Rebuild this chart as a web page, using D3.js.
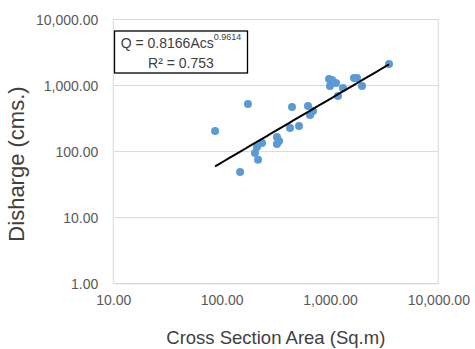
<!DOCTYPE html>
<html>
<head>
<meta charset="utf-8">
<script src="https://cdn.jsdelivr.net/npm/d3@7"></script>
<style>
  html, body { margin: 0; padding: 0; background: #fff; }
  svg { display: block; }
</style>
</head>
<body>
<script>
// ---- data ----
const areaValues = [87, 175, 148, 203, 217, 212, 236, 324, 339, 324, 428, 518, 446, 627, 697, 655, 980, 1000, 1137, 1045, 1319, 1186, 1667, 1778, 1977, 3508];
const dischargeValues = [205, 526, 49, 95, 75, 117, 135, 166, 145, 130, 228, 244, 473, 490, 412, 358, 1256, 985, 1093, 1213, 919, 695, 1301, 1301, 985, 2120];
const xTicks = [10, 100, 1000, 10000];
const yTicks = [1, 10, 100, 1000, 10000];
const trendCoef = 0.8166;
const trendExp = 0.9614;
const rSquared = "0.753";
const xTitle = "Cross Section Area (Sq.m)";
const yTitle = "Disharge (cms.)";

(function () {
const W = 475, H = 349;
const svg = d3.select("body").append("svg").attr("width", W).attr("height", H);

const pLeft = 113.3, pRight = 438.3, pTop = 19.5, pBottom = 283.7;
const x = d3.scaleLog().domain([10, 10000]).range([pLeft, pRight]);
const y = d3.scaleLog().domain([1, 10000]).range([pBottom, pTop]);
const fmt = d3.format(",.2f");
const textColor = "#595959";
const ff = "Liberation Sans, Arial, sans-serif";

// gridlines
svg.append("g").selectAll("line").data(yTicks).join("line")
  .attr("x1", pLeft).attr("x2", pRight)
  .attr("y1", d => y(d)).attr("y2", d => y(d))
  .attr("stroke", "#d9d9d9").attr("stroke-width", 1);

// plot border
svg.append("rect").attr("x", pLeft).attr("y", pTop)
  .attr("width", pRight - pLeft).attr("height", pBottom - pTop)
  .attr("fill", "none").attr("stroke", "#d9d9d9").attr("stroke-width", 1);

// y axis labels
const yAxis = d3.axisLeft(y).tickValues(yTicks).tickFormat(fmt).tickSize(0).tickPadding(15);
const gy = svg.append("g").attr("transform", `translate(${pLeft},0)`).call(yAxis);
gy.select(".domain").remove();
gy.selectAll("text").attr("font-family", ff)
  .attr("font-size", 14).attr("fill", textColor).attr("dy", "0.35em");

// x axis labels
const xAxis = d3.axisBottom(x).tickValues(xTicks).tickFormat(fmt).tickSize(0).tickPadding(11);
const gx = svg.append("g").attr("transform", `translate(0,${pBottom})`).call(xAxis);
gx.select(".domain").remove();
gx.selectAll("text").attr("font-family", ff)
  .attr("font-size", 14).attr("fill", textColor);

// points
const pts = areaValues.map((a, i) => ({a, q: dischargeValues[i]}));
svg.append("g").selectAll("circle").data(pts).join("circle")
  .attr("cx", d => x(d.a)).attr("cy", d => y(d.q)).attr("r", 4)
  .attr("fill", "#5B9BD5");

// power trendline
const xmin = d3.min(areaValues), xmax = d3.max(areaValues);
const trendPts = d3.range(0, 41).map(i => {
  const a = Math.exp(Math.log(xmin) + (Math.log(xmax) - Math.log(xmin)) * i / 40);
  return [a, trendCoef * Math.pow(a, trendExp)];
});
svg.append("path").datum(trendPts)
  .attr("d", d3.line().x(d => x(d[0])).y(d => y(d[1])))
  .attr("fill", "none").attr("stroke", "#000").attr("stroke-width", 2);

// equation box
svg.append("rect").attr("x", 114.5).attr("y", 31).attr("width", 133).attr("height", 42)
  .attr("fill", "#fff").attr("stroke", "#000").attr("stroke-width", 1.3);
const eq = svg.append("text").attr("x", 181).attr("y", 48)
  .attr("text-anchor", "middle")
  .attr("font-family", ff).attr("font-size", 14).attr("fill", "#404040");
eq.append("tspan").text("Q = " + trendCoef + "Acs");
eq.append("tspan").attr("font-size", 9).attr("dy", -8).text(String(trendExp));
svg.append("text").attr("x", 181).attr("y", 67.5).attr("text-anchor", "middle")
  .attr("font-family", ff).attr("font-size", 14).attr("fill", "#404040")
  .text("R² = " + rSquared);

// axis titles
svg.append("text").attr("x", (pLeft + pRight) / 2).attr("y", 344)
  .attr("text-anchor", "middle")
  .attr("font-family", ff).attr("font-size", 18.5).attr("fill", "#404040")
  .text(xTitle);
svg.append("text").attr("transform", "translate(24,164) rotate(-90)")
  .attr("text-anchor", "middle")
  .attr("font-family", ff).attr("font-size", 22).attr("fill", "#404040")
  .text(yTitle);
})();
</script>
</body>
</html>
